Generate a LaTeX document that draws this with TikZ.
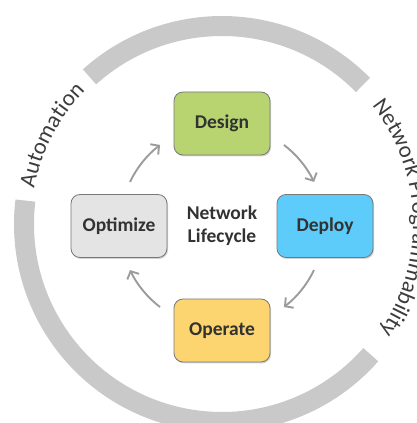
\documentclass[tikz,border=0pt]{standalone}
\usepackage{fontspec}
\setmainfont{Carlito}
\usetikzlibrary{arrows.meta,shadows,decorations.text}
\definecolor{ringgray}{RGB}{201,201,201}
\definecolor{arrgray}{RGB}{155,155,155}
\definecolor{txtdark}{RGB}{50,50,50}
\definecolor{arctxt}{RGB}{60,60,60}
\definecolor{designc}{RGB}{184,212,112}
\definecolor{deployc}{RGB}{94,204,250}
\definecolor{optc}{RGB}{228,228,228}
\definecolor{operc}{RGB}{252,213,112}
\definecolor{boxborder}{RGB}{120,120,120}
\begin{document}
\begin{tikzpicture}[x=1pt,y=1pt,
  stage/.style={draw=boxborder, line width=0.8pt, rounded corners=9pt,
    minimum width=96pt, minimum height=63pt,
    font=\fontsize{19.5}{22}\selectfont\bfseries, text=txtdark,
    drop shadow={shadow xshift=1pt,shadow yshift=-1.5pt,opacity=0.35}},
  ring/.style={draw=ringgray, line width=20pt},
  flow/.style={draw=arrgray, line width=1.9pt, -{Straight Barb[length=6pt,width=13pt]}},
]
\useasboundingbox (0,0) rectangle (417,423);
\clip (0,0) rectangle (417,423);
\coordinate (C) at (222,199);
\coordinate (M) at (222,197);

% ring segments
\draw[ring] ([shift={(132:198)}]C) arc[start angle=132, end angle=44.6, radius=198];
\draw[ring] ([shift={(173.2:198)}]C) arc[start angle=173.2, end angle=318.7, radius=198];

% curved texts
\path[decorate, decoration={text along path, text align=center,
  text={|\fontsize{23}{23}\selectfont\color{arctxt}|Automation}}]
  ([shift={(172:191)}]C) arc[start angle=172, end angle=133, radius=191];
\path[decorate, decoration={text along path, text align=center,
  text={|\fontsize{23}{23}\selectfont\color{arctxt}|Network Programmability}}]
  ([shift={(50:191)}]C) arc[start angle=50, end angle=-46, radius=191];

% stages
\node[stage, fill=designc] (design) at (222,299.5) {Design};
\node[stage, fill=deployc] (deploy) at (325,197) {Deploy};
\node[stage, fill=optc] (optimize) at (119,197) {Optimize};
\node[stage, fill=operc] (operate) at (222,92.5) {Operate};
\node[align=center, font=\fontsize{19.5}{23}\selectfont\bfseries, text=txtdark] (life) at (222,197) {Network\\Lifecycle};

% arrow endpoints
\coordinate (a1) at ([shift={(154.4:102)}]M);
\coordinate (a2) at ([shift={(52.6:102)}]M);
\coordinate (a3) at ([shift={(-25.6:102)}]M);
\coordinate (a4) at ([shift={(-127.4:102)}]M);
\draw[flow] (a1) arc[start angle=154.4, end angle=127.4, radius=102];
\draw[flow] (a2) arc[start angle=52.6, end angle=25.6, radius=102];
\draw[flow] (a3) arc[start angle=-25.6, end angle=-52.6, radius=102];
\draw[flow] (a4) arc[start angle=-127.4, end angle=-154.4, radius=102];
\end{tikzpicture}
\end{document}
